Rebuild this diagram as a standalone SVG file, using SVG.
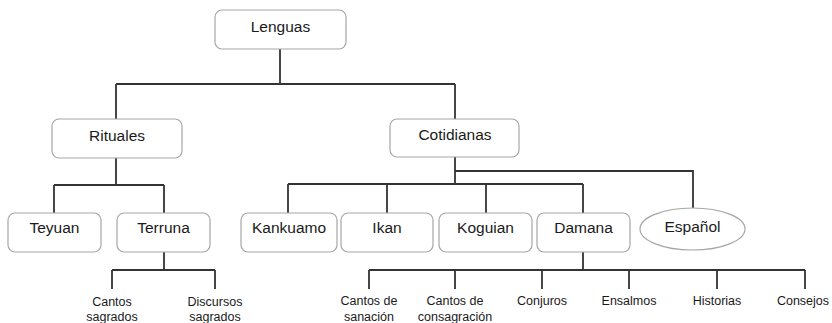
<svg xmlns="http://www.w3.org/2000/svg" width="832" height="323" viewBox="0 0 832 323">
<style>
.box{fill:#fff;stroke:#a6a6a6;stroke-width:1.2}
.t{font-family:"Liberation Sans",Arial,sans-serif;font-size:15.5px;fill:#1a1a1a;text-anchor:middle}
.s{font-family:"Liberation Sans",Arial,sans-serif;font-size:12.5px;fill:#1a1a1a;text-anchor:middle}
.c{fill:none;stroke:#333;stroke-width:1.8}
</style>
<rect width="832" height="323" fill="#fff"/>
<g id="connectors">
<path class="c" d="M280 49V84M116 84H455M116 84V119M455 84V120"/>
<path class="c" d="M116 158V185M54 185H164M54 185V213M164 185V213"/>
<path class="c" d="M455 157V184M288 184H583M288 184V213M387 184V213M486 184V213M583 184V213M455 171H693V208"/>
<path class="c" d="M164 252V270M112 270H215M112 270V289M215 270V289"/>
<path class="c" d="M583 252V270M369 270H805M369 270V289M455 270V289M542 270V289M629 270V289M717 270V289M805 270V289"/>
</g>
<g id="lenguas"><rect class="box" x="215" y="10" width="131" height="39" rx="7"/><text class="t" x="280.5" y="32">Lenguas</text></g>
<g id="rituales"><rect class="box" x="52" y="119" width="130" height="39" rx="7"/><text class="t" x="117" y="141">Rituales</text></g>
<g id="cotidianas"><rect class="box" x="390" y="119" width="129" height="38" rx="7"/><text class="t" x="455" y="140">Cotidianas</text></g>
<g id="teyuan"><rect class="box" x="8" y="213" width="93" height="39" rx="7"/><text class="t" x="54.5" y="233">Teyuan</text></g>
<g id="terruna"><rect class="box" x="117" y="213" width="93" height="39" rx="7"/><text class="t" x="163.5" y="233">Terruna</text></g>
<g id="kankuamo"><rect class="box" x="241" y="213" width="96" height="39" rx="7"/><text class="t" x="289" y="233">Kankuamo</text></g>
<g id="ikan"><rect class="box" x="341" y="213" width="92" height="39" rx="7"/><text class="t" x="387" y="233">Ikan</text></g>
<g id="koguian"><rect class="box" x="439" y="213" width="93" height="39" rx="7"/><text class="t" x="485.5" y="233">Koguian</text></g>
<g id="damana"><rect class="box" x="537" y="213" width="93" height="39" rx="7"/><text class="t" x="583.5" y="233">Damana</text></g>
<g id="espanol"><ellipse class="box" cx="692.5" cy="229" rx="52.5" ry="21"/><text class="t" x="692.5" y="232">Español</text></g>
<g id="cantos-sagrados"><text class="s" x="112" y="306">Cantos</text><text class="s" x="112" y="321">sagrados</text></g>
<g id="discursos-sagrados"><text class="s" x="215" y="306">Discursos</text><text class="s" x="215" y="321">sagrados</text></g>
<g id="cantos-sanacion"><text class="s" x="369" y="305">Cantos de</text><text class="s" x="369" y="321">sanación</text></g>
<g id="cantos-consagracion"><text class="s" x="455" y="305">Cantos de</text><text class="s" x="455" y="321">consagración</text></g>
<g id="conjuros"><text class="s" x="542" y="305">Conjuros</text></g>
<g id="ensalmos"><text class="s" x="629" y="305">Ensalmos</text></g>
<g id="historias"><text class="s" x="717" y="305">Historias</text></g>
<g id="consejos"><text class="s" x="803" y="305">Consejos</text></g>
</svg>
